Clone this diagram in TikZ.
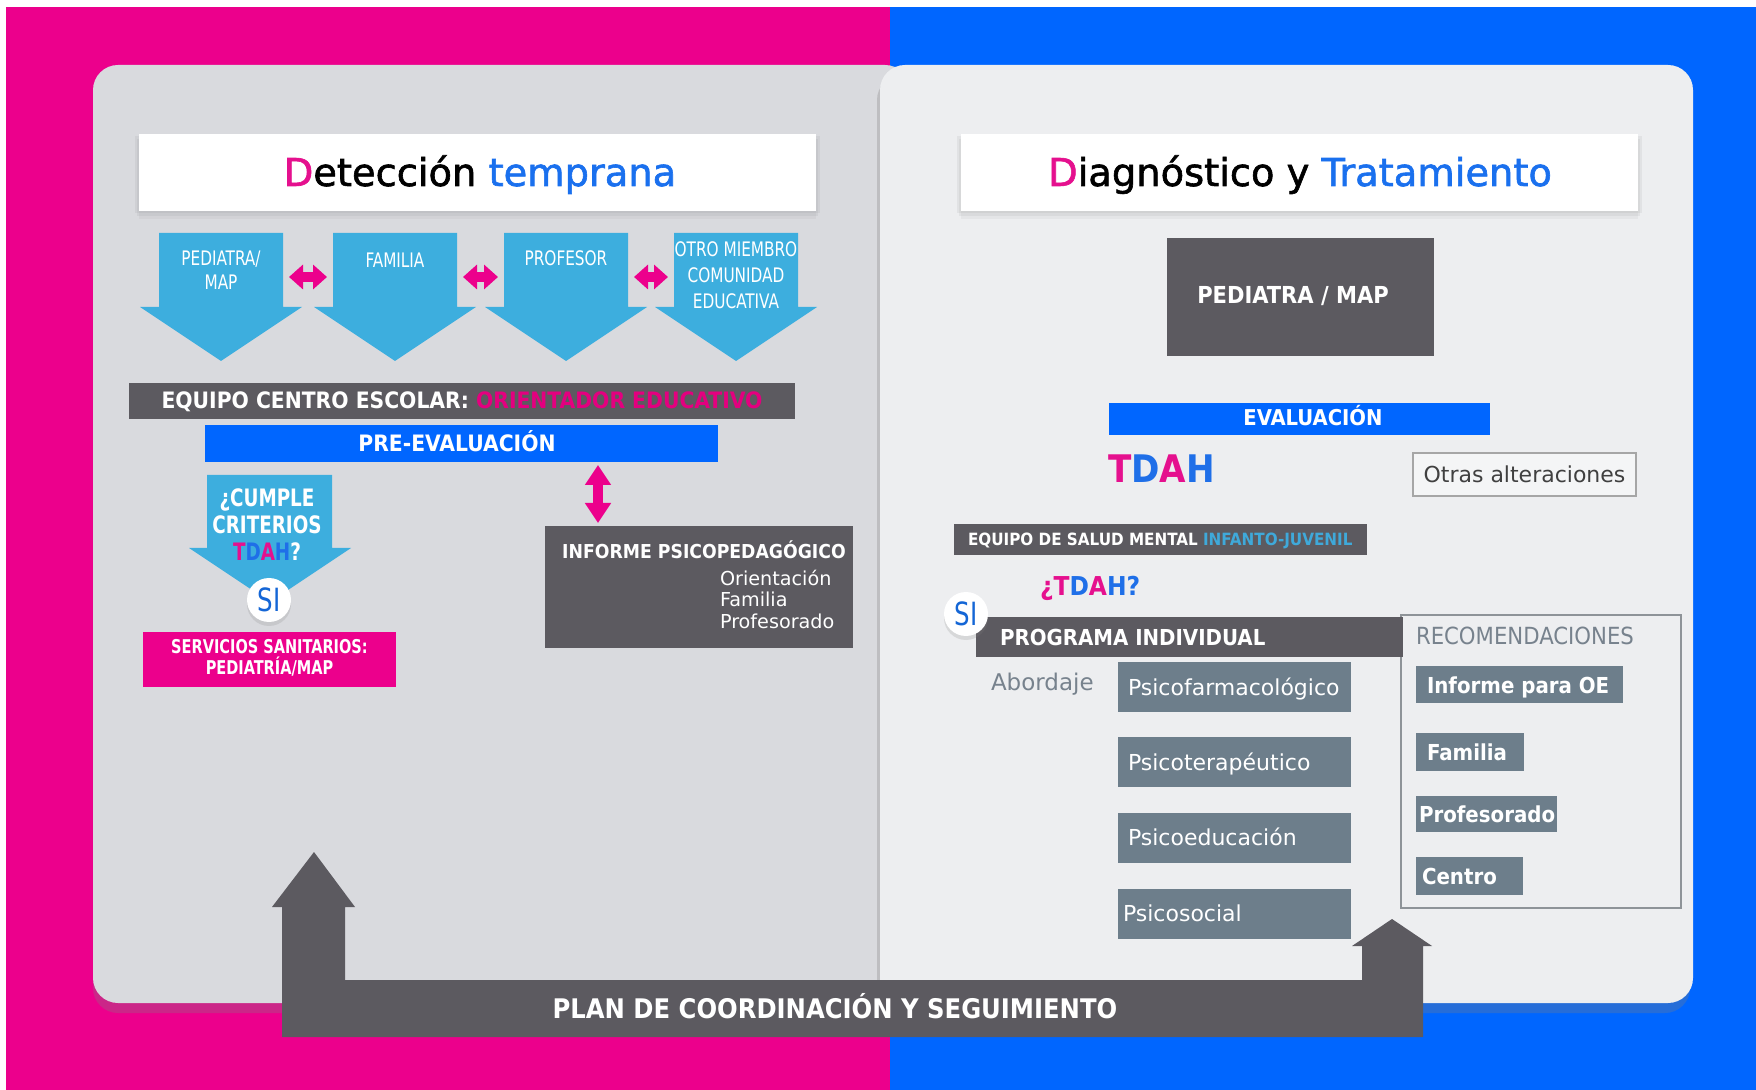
\documentclass[tikz,border=0pt]{standalone}
\usepackage{fontspec}
\setmainfont{DejaVu Sans}
\newfontfamily\ftitle{DejaVu Sans}[BoldFont={DejaVu Sans}, BoldFeatures={FakeBold=1.6}]
\newfontfamily\fcond{DejaVu Sans Condensed}[BoldFont={DejaVu Sans Condensed Bold}]
\newfontfamily\fnarrow{DejaVu Sans Condensed}[BoldFont={DejaVu Sans Condensed Bold},FakeStretch=0.85]
\usetikzlibrary{shadows,arrows.meta}
\newcommand\setfs[2]{\fontsize{#1}{#2}\selectfont}
\definecolor{cpink}{HTML}{EC008C}
\definecolor{cblue}{HTML}{0066FF}
\definecolor{clblue}{HTML}{3DAEDE}
\definecolor{cdark}{HTML}{5C5A60}
\definecolor{cslate}{HTML}{6D7E8B}
\definecolor{cpanelL}{HTML}{D9DADE}
\definecolor{cpanelR}{HTML}{EDEEF0}
\definecolor{ctpink}{HTML}{E5108E}
\definecolor{ctblue}{HTML}{1F6FE8}
\definecolor{ctitleblue}{HTML}{1A70EE}
\definecolor{cgraytxt}{HTML}{77828D}
\definecolor{cborder}{HTML}{8E9398}
\definecolor{cinf}{HTML}{3FA9DA}
\definecolor{corient}{HTML}{E3007F}
\definecolor{csi}{HTML}{1466D6}
\tikzset{
  box/.style={rectangle, inner sep=0pt, outer sep=0pt},
  lbl/.style={inner sep=0pt, outer sep=0pt},
  pinkdbl/.style={draw=cpink, line width=5pt, {Triangle[width=12pt,length=7pt]}-{Triangle[width=12pt,length=7pt]}},
  pinkvdbl/.style={draw=cpink, line width=5pt, {Triangle[width=12.5pt,length=10pt]}-{Triangle[width=12.5pt,length=10pt]}},
  tshadow/.style={drop shadow={shadow xshift=0pt, shadow yshift=-1pt, shadow scale=1.012, opacity=0.10},
                  drop shadow={shadow xshift=0pt, shadow yshift=-2.5pt, shadow scale=1.006, opacity=0.10},
                  drop shadow={shadow xshift=0pt, shadow yshift=-4pt, opacity=0.08}},
  sishadow/.style={drop shadow={shadow xshift=0pt, shadow yshift=-2pt, opacity=0.2}},
  sicircle/.style={circle, fill=white, inner sep=0pt, minimum size=22pt, sishadow, text=csi, font=\fnarrow\setfs{16}{18}},
  bigarrow/.style={fill=clblue},
  wlab/.style={lbl, text=white, font=\fnarrow\setfs{10}{12}},
  bold11/.style={lbl, text=white, font=\fcond\bfseries\setfs{11}{13}},
  psy/.style={box, minimum width=116.5pt, minimum height=25pt, fill=cslate},
  psytxt/.style={lbl, anchor=base west, text=white, font=\setfs{11}{13}},
  rec/.style={box, fill=cslate},
  rectxt/.style={lbl, anchor=base west, text=white, font=\fcond\bfseries\setfs{11}{13}},
}
\begin{document}
\begin{tikzpicture}[x=0.5pt,y=-0.5pt]
\useasboundingbox (0,0) rectangle (1756,1090);
% background
\fill[white] (0,0) rectangle (1756,1090);
\fill[cpink] (6,7) rectangle (890,1090);
\fill[cblue] (890,7) rectangle (1756,1090);
% panels
\path[fill=cpanelL, rounded corners=12.5pt, drop shadow={shadow xshift=0pt,shadow yshift=-5pt,opacity=0.3}] (93,65) rectangle (910,1003);
\path[fill=cpanelR, rounded corners=12.5pt, drop shadow={shadow xshift=-1.5pt,shadow yshift=-5pt,opacity=0.3}] (880,65) rectangle (1693,1003);

% titles
\node[box, minimum width=338.5pt, minimum height=38.5pt, fill=white, tshadow] (tboxL) at (477.5,172.5) {};
\node[lbl, anchor=base, font=\ftitle\bfseries\setfs{19.2}{23}] (tL) at (480,186) {\textcolor{ctpink}{D}etección \textcolor{ctitleblue}{temprana}};
\node[box, minimum width=338.5pt, minimum height=38.5pt, fill=white, tshadow] (tboxR) at (1299.5,172.5) {};
\node[lbl, anchor=base, font=\ftitle\bfseries\setfs{19.2}{23}] (tR) at (1300,186) {\textcolor{ctpink}{D}iagnóstico y \textcolor{ctitleblue}{Tratamiento}};

% ---------- LEFT ----------
\foreach \cx/\nm in {221/a1,395/a2,566/a3,736/a4}{
  \fill[bigarrow] (\cx-62,233) -- (\cx+62,233) -- (\cx+62,307) -- (\cx+81,307) -- (\cx,361) -- (\cx-81,307) -- (\cx-62,307) -- cycle;
  \coordinate (\nm w) at (\cx-62,277);
  \coordinate (\nm e) at (\cx+62,277);
}
\node[wlab, align=center] (l1) at (221,270) {PEDIATRA/\\MAP};
\node[wlab, anchor=base] (l2) at (395,267.5) {FAMILIA};
\node[wlab, anchor=base] (l3) at (566,265.5) {PROFESOR};
\node[wlab, align=center, font=\fnarrow\setfs{10}{13}] (l4) at (736,275.5) {OTRO MIEMBRO\\COMUNIDAD\\EDUCATIVA};
\draw[pinkdbl] ([xshift=3pt]a1e) -- ([xshift=-3pt]a2w);
\draw[pinkdbl] ([xshift=3pt]a2e) -- ([xshift=-3pt]a3w);
\draw[pinkdbl] ([xshift=3pt]a3e) -- ([xshift=-3pt]a4w);

\node[box, minimum width=333pt, minimum height=18pt, fill=cdark] (eq) at (462,401) {};
\node[lbl, anchor=base, font=\fcond\bfseries\setfs{11.3}{13}] (eqt) at (462,409) {\textcolor{white}{EQUIPO CENTRO ESCOLAR: }\textcolor{corient}{ORIENTADOR EDUCATIVO}};

\node[box, minimum width=256.5pt, minimum height=18.5pt, fill=cblue] (pre) at (461.5,443.5) {};
\node[bold11, anchor=base, font=\fcond\bfseries\setfs{11.3}{13}] (pret) at (457,452) {PRE-EVALUACIÓN};

% cumple arrow
\fill[bigarrow] (207,475) -- (332,475) -- (332,548) -- (351,548) -- (270,602) -- (189,548) -- (207,548) -- cycle;
\node[lbl, align=center, text=white, font=\fnarrow\bfseries\setfs{12}{13.5}] (cum) at (267,525) {¿CUMPLE\\CRITERIOS\\\textcolor{ctpink}{T}\textcolor{ctblue}{D}\textcolor{ctpink}{A}\textcolor{ctblue}{H}?};
\node[sicircle] (siL) at (269,600) {SI};

\node[box, minimum width=126.5pt, minimum height=27.5pt, fill=cpink] (serv) at (269.5,659.5) {};
\node[lbl, align=center, text=white, font=\fnarrow\bfseries\setfs{9.5}{10.5}] (servt) at (269.5,657.5) {SERVICIOS SANITARIOS:\\PEDIATRÍA/MAP};

\node[box, minimum width=154pt, minimum height=61pt, fill=cdark] (inf) at (699,587) {};
\node[lbl, anchor=base, text=white, font=\fcond\bfseries\setfs{9.6}{11}] (inft) at (704,559) {INFORME PSICOPEDAGÓGICO};
\node[lbl, anchor=base west, text=white, font=\setfs{9.6}{11}] (inf1) at (720,586) {Orientación};
\node[lbl, anchor=base west, text=white, font=\setfs{9.6}{11}] (inf2) at (720,607) {Familia};
\node[lbl, anchor=base west, text=white, font=\setfs{9.6}{11}] (inf3) at (720,628) {Profesorado};
\draw[pinkvdbl] ([xshift=-60pt,yshift=-1.5pt]pre.south east) -- ([xshift=26.5pt,yshift=1.5pt]inf.north west);

% ---------- RIGHT ----------
\node[box, minimum width=133.5pt, minimum height=59pt, fill=cdark] (ped) at (1300.5,297) {};
\node[lbl, anchor=base, text=white, font=\fcond\bfseries\setfs{11.7}{13}] (pedt) at (1293,303.5) {PEDIATRA / MAP};

\node[box, minimum width=190.5pt, minimum height=16pt, fill=cblue] (eva) at (1299.5,419) {};
\node[lbl, anchor=base, text=white, font=\fcond\bfseries\setfs{10.9}{13}] (evat) at (1313,425.5) {EVALUACIÓN};

\node[lbl, anchor=base west, font=\fcond\bfseries\setfs{19}{22}] (tdah) at (1108,482.5) {\textcolor{ctpink}{T}\textcolor{ctblue}{D}\textcolor{ctpink}{A}\textcolor{ctblue}{H}};

\node[box, minimum width=111.5pt, minimum height=21.5pt, fill=cpanelR!60!white, draw=black!35, line width=0.6pt, text=black!75, font=\setfs{11}{13}] (otr) at (1524.5,474.5) {Otras alteraciones};

\node[box, minimum width=206.5pt, minimum height=15.5pt, fill=cdark] (sal) at (1160.5,539.5) {};
\node[lbl, anchor=base west, font=\fcond\bfseries\setfs{8.45}{10}] (salt) at (968,546) {\textcolor{white}{EQUIPO DE SALUD MENTAL }\textcolor{cinf}{INFANTO-JUVENIL}};

\node[lbl, anchor=base west, font=\fcond\bfseries\setfs{13}{15}] (qtdah) at (1040,595.5) {\textcolor{ctpink}{¿T}\textcolor{ctblue}{D}\textcolor{ctpink}{A}\textcolor{ctblue}{H?}};

\node[box, minimum width=140pt, minimum height=146.5pt, draw=cborder, line width=0.6pt] (recb) at (1541,761.5) {};
\node[box, minimum width=213.5pt, minimum height=20pt, fill=cdark] (prog) at (1189.5,637) {};
\node[bold11, anchor=base west] (progt) at (1000,645.5) {PROGRAMA INDIVIDUAL};
\node[sicircle] (siR) at (966,614) {SI};

\node[lbl, anchor=base west, text=cgraytxt, font=\fcond\setfs{11.8}{13}] (rect) at (1416,645) {RECOMENDACIONES};
\node[lbl, anchor=base west, text=cgraytxt, font=\setfs{11.5}{13}] (abo) at (991,690) {Abordaje};

\node[psy] (p1) at (1234.5,687) {};
\node[psy] (p2) at (1234.5,762) {};
\node[psy] (p3) at (1234.5,837.5) {};
\node[psy] (p4) at (1234.5,913.5) {};
\node[psytxt] (p1t) at (1128,695) {Psicofarmacológico};
\node[psytxt] (p2t) at (1128,770) {Psicoterapéutico};
\node[psytxt] (p3t) at (1128,845.5) {Psicoeducación};
\node[psytxt] (p4t) at (1123,921.5) {Psicosocial};

\node[rec, minimum width=103.5pt, minimum height=18.5pt] (r1) at (1519.5,684.5) {};
\node[rec, minimum width=54pt, minimum height=19pt] (r2) at (1470,752) {};
\node[rec, minimum width=70.5pt, minimum height=18pt] (r3) at (1486.5,814) {};
\node[rec, minimum width=53.5pt, minimum height=19pt] (r4) at (1469.5,876) {};
\node[rectxt] (r1t) at (1427,693) {Informe para OE};
\node[rectxt] (r2t) at (1427,760.5) {Familia};
\node[rectxt] (r3t) at (1419,822.5) {Profesorado};
\node[rectxt] (r4t) at (1422,884.5) {Centro};

% ---------- BOTTOM ----------
\fill[cdark] (282,1037) -- (282,907) -- (272,907) -- (314,852) -- (355,907) -- (345,907) -- (345,980) -- (1362,980) -- (1362,946) -- (1352,946) -- (1392,919) -- (1432,946) -- (1423,946) -- (1423,1037) -- cycle;
\node[lbl, anchor=base, text=white, font=\fcond\bfseries\setfs{13.5}{15}] (plan) at (835,1018) {PLAN DE COORDINACIÓN Y SEGUIMIENTO};
\end{tikzpicture}
\end{document}
